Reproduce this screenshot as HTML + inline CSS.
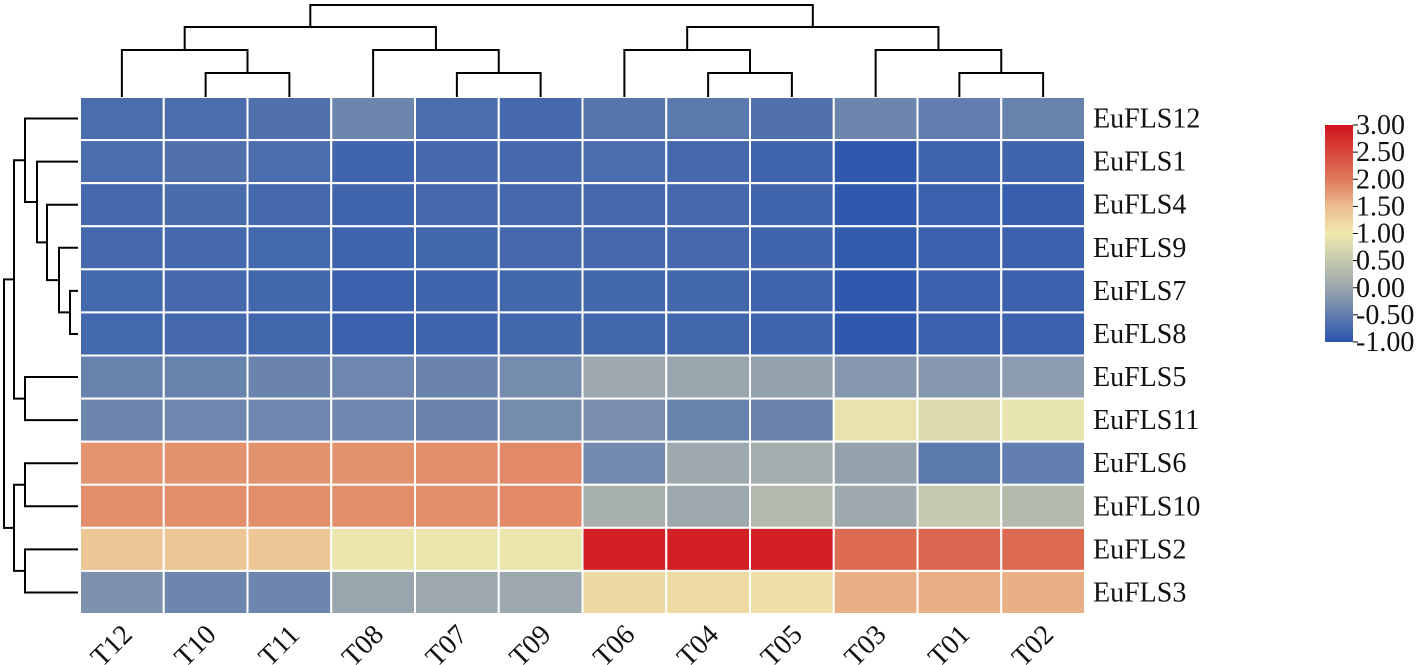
<!DOCTYPE html>
<html><head><meta charset="utf-8"><style>
body{margin:0;background:#fff;}
svg{display:block;font-family:"Liberation Serif",serif;}
</style></head><body>
<svg id="chart" width="1417" height="665" viewBox="0 0 1417 665" xmlns="http://www.w3.org/2000/svg">
<defs><linearGradient id="cbgrad" x1="0" y1="1" x2="0" y2="0">
<stop offset="0" stop-color="#2a55ad"/><stop offset="0.25" stop-color="#9aa6ae"/>
<stop offset="0.5" stop-color="#efe9ae"/><stop offset="0.625" stop-color="#ebbd8f"/>
<stop offset="0.75" stop-color="#df7a5c"/><stop offset="1" stop-color="#d0141c"/>
</linearGradient></defs>
<g id="cells"></g>
<g id="rowlabels"></g>
<g id="collabels"></g>
<g id="dendro" stroke="#000" stroke-width="2" fill="none"></g>
<g>
<rect x="1325" y="125" width="28" height="217" fill="url(#cbgrad)"/>
<g id="cbticks"></g>
</g>
</svg>
<script>
const rows=["EuFLS12","EuFLS1","EuFLS4","EuFLS9","EuFLS7","EuFLS8","EuFLS5","EuFLS11","EuFLS6","EuFLS10","EuFLS2","EuFLS3"];
const cols=["T12","T10","T11","T08","T07","T09","T06","T04","T05","T03","T01","T02"];
const vEuFLS12=[-0.7,-0.7,-0.65,-0.4,-0.7,-0.75,-0.6,-0.55,-0.65,-0.4,-0.5,-0.45];
const vEuFLS1=[-0.7,-0.65,-0.7,-0.8,-0.75,-0.75,-0.7,-0.75,-0.8,-0.95,-0.8,-0.8];
const vEuFLS4=[-0.75,-0.72,-0.75,-0.8,-0.75,-0.75,-0.75,-0.75,-0.8,-0.95,-0.85,-0.88];
const vEuFLS9=[-0.75,-0.75,-0.77,-0.82,-0.78,-0.75,-0.75,-0.75,-0.8,-0.92,-0.85,-0.85];
const vEuFLS7=[-0.77,-0.75,-0.78,-0.85,-0.8,-0.78,-0.78,-0.78,-0.82,-0.95,-0.85,-0.85];
const vEuFLS8=[-0.77,-0.75,-0.78,-0.85,-0.8,-0.78,-0.78,-0.78,-0.82,-0.95,-0.85,-0.85];
const vEuFLS5=[-0.45,-0.45,-0.42,-0.38,-0.42,-0.32,0.05,0.0,-0.05,-0.18,-0.18,-0.12];
const vEuFLS11=[-0.4,-0.38,-0.38,-0.38,-0.42,-0.32,-0.28,-0.45,-0.42,0.9,0.78,0.92];
const vEuFLS6=[1.8,1.82,1.82,1.82,1.85,1.88,-0.35,0.05,0.12,-0.05,-0.55,-0.5];
const vEuFLS10=[1.85,1.85,1.85,1.85,1.85,1.88,0.15,0.05,0.3,0.05,0.5,0.3];
const vEuFLS2=[1.4,1.4,1.4,0.95,0.95,0.95,2.88,2.88,2.88,2.15,2.2,2.15];
const vEuFLS3=[-0.25,-0.4,-0.4,0.0,0.02,0.02,1.2,1.18,1.12,1.6,1.6,1.6];
const values=[vEuFLS12,vEuFLS1,vEuFLS4,vEuFLS9,vEuFLS7,vEuFLS8,vEuFLS5,vEuFLS11,vEuFLS6,vEuFLS10,vEuFLS2,vEuFLS3];
const cbTicks=["3.00","2.50","2.00","1.50","1.00","0.50","0.00","-0.50","-1.00"];
const vmin=-1,vmax=3;
const X0=80,X1=1085,Y0=97,Y1=614;
const cw=(X1-X0)/cols.length, rh=(Y1-Y0)/rows.length;
const NS="http://www.w3.org/2000/svg";
const stops=[[-1,[42,85,173]],[0,[154,166,174]],[1,[239,233,174]],[1.5,[235,189,143]],[2,[223,122,92]],[3,[208,20,28]]];
function color(v){v=Math.max(vmin,Math.min(vmax,v));for(let i=0;i<stops.length-1;i++){const a=stops[i],b=stops[i+1];if(v<=b[0]){const t=(v-a[0])/(b[0]-a[0]);const c=a[1].map((x,k)=>Math.round(x+(b[1][k]-x)*t));return `rgb(${c})`;}}return "rgb(208,20,28)";}
function el(tag,attrs,parent){const e=document.createElementNS(NS,tag);for(const k in attrs)e.setAttribute(k,attrs[k]);parent.appendChild(e);return e;}
const gc=document.getElementById('cells');
rows.forEach((r,i)=>cols.forEach((c,j)=>{
 const e=el('rect',{x:X0+j*cw,y:Y0+i*rh,width:cw,height:rh,fill:color(values[i][j]),stroke:'#fff','stroke-width':2},gc);
 
 
}));
const gr=document.getElementById('rowlabels');
rows.forEach((r,i)=>{const t=el('text',{x:X1+8,y:Y0+(i+0.5)*rh+9,'font-size':28,fill:'#111'},gr);t.textContent=r;
 
 });
const gl=document.getElementById('collabels');
cols.forEach((c,j)=>{const cx=X0+(j+0.5)*cw;const t=el('text',{x:0,y:0,'font-size':28,fill:'#111','text-anchor':'middle',transform:`translate(${cx-4},${Y1+38}) rotate(-45)`},gl);t.textContent=c;
 
 });
const gd=document.getElementById('dendro');
function pth(d,name){const p=el('path',{d:d},gd);}
const cx=j=>X0+(j+0.5)*cw;
function topU(xa,ya,xb,yb,y){pth(`M${xa},${ya}V${y}H${xb}V${yb}`,'column-dendrogram-branch');}
[0,3,6,9].forEach(s=>{
 topU(cx(s+1),Y0,cx(s+2),Y0,73);
 topU(cx(s),Y0,(cx(s+1)+cx(s+2))/2,73,50);
});
const m3=s=>(cx(s)+(cx(s+1)+cx(s+2))/2)/2;
topU(m3(0),50,m3(3),50,27);
topU(m3(6),50,m3(9),50,27);
topU((m3(0)+m3(3))/2,27,(m3(6)+m3(9))/2,27,5);
const cy=i=>Y0+(i+0.5)*rh;
function leftU(ya,xa,yb,xb,x){pth(`M${xa},${ya}H${x}V${yb}H${xb}`,'row-dendrogram-branch');}
leftU(cy(4),X0-2,cy(5),X0-2,70); const m45=(cy(4)+cy(5))/2;
leftU(cy(3),X0-2,m45,70,59); const m3_=(cy(3)+m45)/2;
leftU(cy(2),X0-2,m3_,59,47); const m2=(cy(2)+m3_)/2;
leftU(cy(1),X0-2,m2,47,37); const m1=(cy(1)+m2)/2;
leftU(cy(0),X0-2,m1,37,25); const m0=(cy(0)+m1)/2;
leftU(cy(6),X0-2,cy(7),X0-2,25); const m67=(cy(6)+cy(7))/2;
leftU(m0,25,m67,25,14); const mA=(m0+m67)/2;
leftU(cy(8),X0-2,cy(9),X0-2,25); const m89=(cy(8)+cy(9))/2;
leftU(cy(10),X0-2,cy(11),X0-2,25); const m1011=(cy(10)+cy(11))/2;
leftU(m89,25,m1011,25,14); const mB=(m89+m1011)/2;
leftU(mA,14,mB,14,4);
const gt=document.getElementById('cbticks');
cbTicks.forEach((s,i)=>{const y=125+i*217/(cbTicks.length-1);
 const l=el('line',{x1:1353,x2:1358,y1:y,y2:y,stroke:'#000','stroke-width':1},gt);
 
 
 const t=el('text',{x:1356,y:y+9,'font-size':28,fill:'#111'},gt);t.textContent=s;
 
 });
</script>
</body></html>
